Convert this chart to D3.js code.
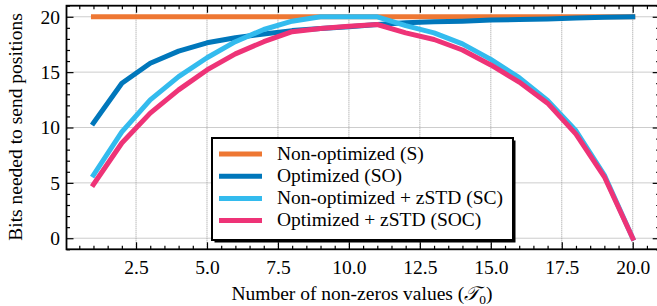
<!DOCTYPE html>
<html>
<head>
<meta charset="utf-8">
<script src="https://cdn.jsdelivr.net/npm/d3@7"></script>
<style>
  body { margin: 0; background: #fff; }
</style>
</head>
<body>
<div id="chart"></div>
<script>
// number of non-zero values
var nonZeros = d3.range(1, 21);

var seriesNames = ["Non-optimized (S)", "Optimized (SO)", "Non-optimized + zSTD (SC)", "Optimized + zSTD (SOC)"];
var colors = ["#EE7733", "#0077BB", "#33BBEE", "#EE3377"];

var valsS = [20, 20, 20, 20, 20, 20, 20, 20, 20, 20, 20, 20, 20, 20, 20, 20, 20, 20, 20, 20];
var valsSO = [10.4, 14.0, 15.8, 16.9, 17.65, 18.1, 18.45, 18.75, 18.95, 19.1, 19.3, 19.45, 19.55, 19.6, 19.7, 19.75, 19.8, 19.9, 19.95, 20.0];
var valsSC = [5.7, 9.6, 12.5, 14.6, 16.3, 17.75, 18.85, 19.6, 20, 20, 20, 19.2, 18.55, 17.55, 16.15, 14.5, 12.45, 9.7, 5.7, 0];
var valsSOC = [4.85, 8.6, 11.3, 13.4, 15.2, 16.65, 17.75, 18.65, 18.95, 19.15, 19.3, 18.55, 17.95, 17.0, 15.65, 14.1, 12.2, 9.4, 5.55, 0];

var xTicks = [2.5, 5, 7.5, 10, 12.5, 15, 17.5, 20];
var yTicks = [0, 5, 10, 15, 20];

var FONT = "Liberation Serif";
var FS = 19.5;
var width = 657, height = 306;
var plotL = 66.5, plotR = 659.7, plotT = 5.7, plotB = 249.3;

var svg = d3.select("#chart").append("svg")
    .attr("width", width)
    .attr("height", height);

var x = d3.scaleLinear().domain([0.05, 20.95]).range([plotL, plotR]);
var y = d3.scaleLinear().domain([-1, 21]).range([plotB, plotT]);

// grid
var grid = svg.append("g");
grid.selectAll(".gx").data(xTicks).enter().append("line")
    .attr("x1", d => x(d)).attr("x2", d => x(d))
    .attr("y1", plotT).attr("y2", plotB)
    .attr("stroke", "#9a9a9a").attr("stroke-width", 1).attr("stroke-dasharray", "1,1");
grid.selectAll(".gy").data(yTicks).enter().append("line")
    .attr("x1", plotL).attr("x2", plotR)
    .attr("y1", d => y(d)).attr("y2", d => y(d))
    .attr("stroke", "#9a9a9a").attr("stroke-width", 1).attr("stroke-dasharray", "1,1");

// series
var allSeries = [valsS, valsSO, valsSC, valsSOC];
var line = d3.line()
    .x((d, i) => x(nonZeros[i]))
    .y(d => y(d));

svg.append("g").selectAll("path").data(allSeries).enter().append("path")
    .attr("d", d => line(d))
    .attr("fill", "none")
    .attr("stroke", (d, i) => colors[i])
    .attr("stroke-width", 5)
    .attr("stroke-linejoin", "round")
    .attr("stroke-linecap", "square");

// axes, ticks pointing inward on all four sides
var xMinor = d3.range(0.5, 21, 0.5).filter(v => xTicks.indexOf(v) < 0);
var yMinor = d3.range(-1, 22, 1).filter(v => yTicks.indexOf(v) < 0);

svg.append("g").attr("transform", "translate(0," + plotB + ")")
    .call(d3.axisBottom(x).tickValues(xTicks).tickFormat(d3.format(".1f")).tickSizeInner(-7).tickSizeOuter(0).tickPadding(11));
svg.append("g").attr("transform", "translate(0," + plotB + ")")
    .call(d3.axisBottom(x).tickValues(xMinor).tickFormat("").tickSizeInner(-3.5).tickSizeOuter(0));
svg.append("g").attr("transform", "translate(0," + plotT + ")")
    .call(d3.axisTop(x).tickValues(xTicks).tickFormat("").tickSizeInner(-7).tickSizeOuter(0));
svg.append("g").attr("transform", "translate(0," + plotT + ")")
    .call(d3.axisTop(x).tickValues(xMinor).tickFormat("").tickSizeInner(-3.5).tickSizeOuter(0));

svg.append("g").attr("transform", "translate(" + plotL + ",0)")
    .call(d3.axisLeft(y).tickValues(yTicks).tickSizeInner(-7).tickSizeOuter(0).tickPadding(6.5));
svg.append("g").attr("transform", "translate(" + plotL + ",0)")
    .call(d3.axisLeft(y).tickValues(yMinor).tickFormat("").tickSizeInner(-3.5).tickSizeOuter(0));
svg.append("g").attr("transform", "translate(" + plotR + ",0)")
    .call(d3.axisRight(y).tickValues(yTicks).tickFormat("").tickSizeInner(-7).tickSizeOuter(0));
svg.append("g").attr("transform", "translate(" + plotR + ",0)")
    .call(d3.axisRight(y).tickValues(yMinor).tickFormat("").tickSizeInner(-3.5).tickSizeOuter(0));

svg.selectAll(".domain").remove();
svg.selectAll(".tick line").attr("stroke", "#000").attr("stroke-width", 1.2);
svg.selectAll("g").attr("font-family", FONT).attr("font-size", FS);
svg.selectAll(".tick text").attr("fill", "#000");

// frame
svg.append("rect")
    .attr("x", plotL).attr("y", plotT)
    .attr("width", plotR - plotL).attr("height", plotB - plotT)
    .attr("fill", "none").attr("stroke", "#000").attr("stroke-width", 1.8);

// axis labels
var xLabel = svg.append("text")
    .attr("x", 362).attr("y", 300)
    .attr("text-anchor", "middle").attr("font-size", FS)
    .attr("font-family", FONT);
xLabel.append("tspan").text("Number of non-zeros values (");
xLabel.append("tspan").attr("font-style", "italic").text("𝒯");
xLabel.append("tspan").attr("font-size", 13.5).attr("dy", 4).text("0");
xLabel.append("tspan").attr("dy", -4).text(")");

svg.append("text")
    .attr("transform", "translate(22,127) rotate(-90)")
    .attr("text-anchor", "middle").attr("font-size", FS)
    .attr("font-family", FONT)
    .text("Bits needed to send positions");

// legend
var lg = svg.append("g").attr("transform", "translate(212,138)");
lg.append("rect").attr("x", 2.5).attr("y", 2.5).attr("width", 301).attr("height", 102).attr("fill", "#000");
lg.append("rect").attr("width", 301).attr("height", 102)
    .attr("fill", "#fff").attr("stroke", "#000").attr("stroke-width", 2);

var items = lg.selectAll(".item").data(seriesNames).enter().append("g")
    .attr("transform", (d, i) => "translate(0," + (16 + i * 22.2) + ")");
items.append("line")
    .attr("x1", 7).attr("x2", 50)
    .attr("stroke", (d, i) => colors[i]).attr("stroke-width", 5);
items.append("text")
    .attr("x", 65).attr("y", 5.5)
    .attr("font-size", FS)
    .attr("font-family", FONT)
    .text(d => d);
</script>
</body>
</html>
